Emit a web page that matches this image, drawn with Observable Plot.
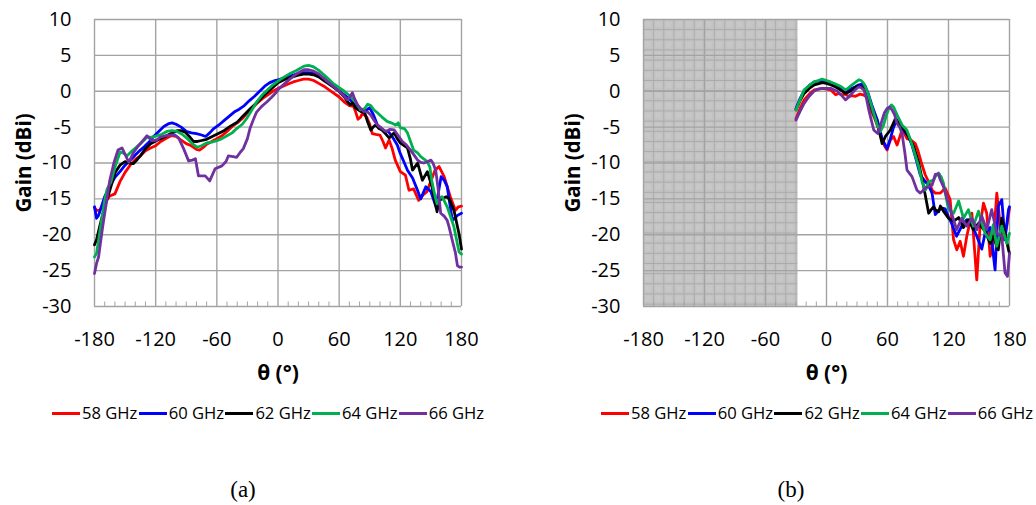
<!DOCTYPE html>
<html>
<head>
<meta charset="utf-8">
<script src="https://cdn.jsdelivr.net/npm/d3@7"></script>
<script src="https://cdn.jsdelivr.net/npm/@observablehq/plot@0.6"></script>
<style>
  html, body { margin: 0; padding: 0; background: #fff; }
  body { width: 1036px; height: 505px; overflow: hidden; position: relative; font-family: "Open Sans", sans-serif; }
  .panel { position: absolute; top: 0; }
  .legend { position: absolute; top: 403px; height: 20px; display: flex; align-items: center; font-size: 16.6px; line-height: 20px; white-space: nowrap; color: #000; }
  .item { display: flex; align-items: center; width: 86.7px; flex: none; }
  .sw { width: 28px; height: 3px; margin-right: 2px; flex: none; }
  .cap { position: absolute; top: 476px; font-family: "Liberation Serif", serif; font-size: 23px; line-height: 28px; transform: translateX(-50%); color: #000; }
</style>
</head>
<body>
<div id="pa" class="panel" style="left:0px"></div>
<div id="pb" class="panel" style="left:549px"></div>
<div id="la" class="legend" style="left:52px"></div>
<div id="lb" class="legend" style="left:601px"></div>
<div class="cap" style="left:243px">(a)</div>
<div class="cap" style="left:791px">(b)</div>
<script>
// ---------- data ----------
const freqNames = ["58 GHz", "60 GHz", "62 GHz", "64 GHz", "66 GHz"];
const freqColors = ["#ff0000", "#0000ff", "#000000", "#00b050", "#7030a0"];
const xTicks = [-180, -120, -60, 0, 60, 120, 180];
const yTicks = [-30, -25, -20, -15, -10, -5, 0, 5, 10];
const minorTicks = [-170,-160,-150,-140,-130,-110,-100,-90,-80,-70,-50,-40,-30,-20,-10,10,20,30,40,50,70,80,90,100,110,130,140,150,160,170];
const blockedRegionB = [[-180, -28]]; // shaded (unmeasured) region in panel (b)

// Panel (a): [theta (deg), gain (dBi)]
const a58 = [[-180,-16.2],[-178,-16.6],[-175,-16.6],[-170,-15.6],[-165,-14.6],[-160,-14.3],[-155,-12.6],[-150,-11.3],[-145,-10.3],[-140,-9.5],[-135,-9],[-130,-8.3],[-125,-7.9],[-120,-7.6],[-115,-7],[-110,-6.6],[-105,-6.2],[-100,-6.3],[-95,-6.8],[-90,-7.3],[-85,-7.6],[-80,-8.1],[-77,-8.2],[-73,-7.8],[-70,-7.4],[-65,-7],[-60,-6.6],[-55,-6.2],[-50,-5.6],[-45,-4.9],[-40,-4.4],[-35,-3.8],[-30,-3],[-25,-2.3],[-20,-1.6],[-15,-1],[-10,-0.5],[-5,0],[0,0.4],[5,0.7],[10,1.0],[15,1.3],[20,1.5],[25,1.7],[30,1.7],[35,1.5],[40,1.1],[45,0.7],[50,0.2],[55,-0.3],[60,-0.8],[65,-1.5],[70,-2],[74,-2.1],[76,-2.8],[78.5,-3.9],[81,-3.6],[83,-3],[87,-3.6],[90,-4.6],[92.5,-5.9],[96,-6],[100,-6.1],[103,-7],[105.5,-7.9],[109,-6.8],[112,-8],[115,-9.6],[120,-11.2],[125,-11.7],[128.5,-13.8],[133,-13.6],[138,-15.2],[142,-14.5],[146,-14],[150,-12.5],[154,-11],[158,-10.5],[163,-11.9],[169,-14.7],[174,-16.6],[177,-16.1],[180,-16]];
const a60 = [[-180,-16.1],[-178,-17.7],[-176,-17.3],[-173,-16],[-170,-14.7],[-165,-13.3],[-160,-12],[-155,-11.2],[-150,-10.3],[-145,-9.6],[-140,-8.9],[-135,-8.2],[-131,-7.7],[-126,-7],[-122,-6.3],[-117,-5.6],[-112,-4.9],[-107,-4.5],[-104,-4.4],[-100,-4.6],[-95,-5],[-90,-5.6],[-85,-5.8],[-80,-5.9],[-75,-6.1],[-71,-6.3],[-67,-5.8],[-63,-5.2],[-58,-4.7],[-53,-4.1],[-48,-3.5],[-43,-2.9],[-38,-2.5],[-33,-2],[-28,-1.3],[-23,-0.7],[-18,0],[-13,0.7],[-8,1.2],[-3,1.5],[0,1.6],[5,1.8],[12,2.1],[18,2.4],[25,2.6],[30,2.6],[35,2.5],[40,2.2],[45,1.7],[48,1.4],[55,0.6],[60,0],[65,-0.5],[71,-1.2],[76,-2],[81,-2.6],[86,-2.7],[90,-2.3],[94,-3.4],[97.5,-4.7],[101,-5.1],[104,-5.6],[108,-5.6],[112,-6.3],[117,-7.5],[120,-8.7],[124,-10],[127,-11],[132,-12.1],[136,-13.5],[140,-15],[145,-13.3],[150,-14],[155,-16.1],[160,-11.9],[163,-12.4],[166,-13.3],[171,-18],[176,-17.3],[180,-17]];
const a62 = [[-180,-21.4],[-178,-20.7],[-175,-18.9],[-170,-16.1],[-165,-13.8],[-160,-11.4],[-155,-10.3],[-150,-9.8],[-146,-10],[-142,-10.1],[-138,-9.5],[-135,-9],[-130,-8],[-125,-7.3],[-118,-6.8],[-112,-6.4],[-105,-5.9],[-99,-5.5],[-95,-5.5],[-91,-5.7],[-87,-6.3],[-83,-7],[-79,-7],[-76,-6.9],[-70,-6.7],[-66,-6.4],[-60,-6],[-53,-5.5],[-47,-4.9],[-40,-4.3],[-34,-3.4],[-27,-2.4],[-20,-1.5],[-14,-0.6],[-7,0.3],[0,1.2],[6,1.6],[12,1.9],[19,2.2],[25,2.4],[30,2.4],[35,2.3],[40,2],[45,1.5],[48,1.2],[54,0.6],[60,0],[65,-0.8],[68,-1.4],[71,-1.9],[73,-1.6],[76,-2.3],[81,-2.8],[85,-3],[88,-4.3],[91,-5.4],[94,-4.9],[96,-4.7],[99,-5.2],[102,-5.4],[106,-6],[109,-6.5],[114,-5.8],[117,-6.6],[120,-7.2],[124,-7.6],[127,-7.9],[130,-9.5],[132,-11],[137,-10],[141.6,-12.4],[146.5,-11.2],[151,-13.3],[156,-16.8],[158,-15.2],[161,-15],[165,-14.7],[168,-15],[172.6,-16.6],[177.6,-19.9],[180,-22]];
const a64 = [[-180,-23.1],[-178,-22.6],[-175,-19.8],[-170,-15.2],[-167.6,-13.6],[-164,-12.7],[-159.5,-10.4],[-155,-8.5],[-152,-8.6],[-148,-9],[-143,-8.3],[-139,-7.8],[-135,-7.3],[-128.5,-6.4],[-123,-6.4],[-118.7,-6.2],[-114,-6],[-109,-5.6],[-104,-5.5],[-99,-5.6],[-94,-6],[-89,-6.6],[-84,-7.3],[-79.6,-7.8],[-75,-7.6],[-70,-7.2],[-65,-7.1],[-60,-6.9],[-55,-6.6],[-50,-6.2],[-45,-5.8],[-40.5,-5.2],[-35,-4.6],[-30.7,-3.8],[-26,-2.7],[-21,-1.5],[-16,-0.6],[-11,0.1],[-5,0.9],[0,1.4],[5,1.9],[12.4,2.5],[18,2.9],[25.5,3.5],[30,3.6],[35,3.4],[40,2.9],[45,2.3],[48,1.9],[54,1.1],[60,0.5],[65,0],[71,-0.7],[76,-1.5],[81,-2.6],[85,-2.4],[88,-1.8],[91,-2],[94,-2.6],[97.5,-3],[102,-3.6],[107,-4.2],[111,-4.4],[115.4,-4.7],[118,-4.4],[120,-5.1],[124,-5.2],[127,-5.8],[130,-7],[133,-8.2],[137,-8.6],[140,-9.1],[146.5,-9.8],[149,-10.6],[151,-12.6],[154,-14.6],[156,-15.7],[158,-15],[161,-14.7],[166,-16.1],[172.6,-18.9],[177.6,-22.4],[180,-22.7]];
const a66 = [[-180,-25.4],[-178,-24],[-176,-23.1],[-174,-21],[-172,-18.9],[-168,-15.2],[-165,-12.4],[-161,-10],[-157,-8.2],[-153,-7.9],[-150,-8.8],[-146.4,-9.9],[-141.5,-8.5],[-138,-7.8],[-135,-7.3],[-128.5,-6.2],[-123.6,-6.9],[-119,-6.8],[-115.5,-6.4],[-110,-6.2],[-105.7,-6.1],[-101,-6.1],[-97.5,-6.5],[-92.6,-8],[-87.7,-9.7],[-84,-9.6],[-81,-9.4],[-78,-11.8],[-75,-11.8],[-71.4,-11.8],[-67,-12.5],[-61.7,-10.8],[-55,-10.4],[-51,-9.8],[-48.6,-9],[-44,-9.1],[-40.5,-9.2],[-37,-8.5],[-34,-8],[-30,-6.6],[-27.5,-5.2],[-24,-3.9],[-21,-2.9],[-16,-2.1],[-11,-1.5],[-6,-0.8],[-1.4,-0.1],[0,0.2],[6,1],[12.4,1.8],[18,2.4],[25.5,3],[30,3],[35,2.8],[40,2.4],[45,1.8],[48,1.4],[54,0.7],[60,0],[65,-0.7],[68,-1.2],[70,-0.9],[73,-0.2],[75,-1],[78,-1.9],[81,-2.4],[84,-2.8],[88,-2.9],[91,-3.3],[94,-4],[97.5,-4.7],[101,-5.1],[105.6,-5.6],[110,-5.3],[114,-5.4],[118,-6.2],[122,-7],[126,-7.5],[130,-8.2],[133,-8.8],[137,-9.6],[140,-9.9],[143,-10],[147,-9.8],[150,-9.6],[152,-10],[154.7,-11],[157,-13.5],[159.6,-17],[163,-17.4],[166,-18],[168,-19],[171,-20.8],[174,-22.5],[176,-24.3],[178,-24.5],[180,-24.5]];

// Panel (b): [theta (deg), gain (dBi)]
const b58 = [[-30,-3.8],[-26,-2.4],[-22,-1.2],[-17,-0.4],[-12,0.2],[-8,0.3],[-4,0.4],[0,0.3],[4,0.2],[9,-0.5],[12,-0.3],[15,-0.5],[18,-0.4],[22,-0.7],[25,-0.6],[28.5,-0.7],[33,-0.4],[36,-0.5],[38.5,-0.7],[41,-1.3],[43,-2.4],[48,-4],[51,-5.2],[55,-6.8],[57,-7.6],[59.6,-8.2],[62.8,-6.8],[66,-6.3],[69.4,-7.5],[72,-6.4],[74.3,-5.4],[77,-6],[79.2,-6.6],[83,-6.8],[87.4,-7.3],[90,-8.3],[93,-9.8],[97,-11.6],[101,-12.8],[104,-13.8],[107,-14.2],[112,-14.2],[116.7,-13.5],[121.6,-15.1],[125,-20.7],[128.2,-22.1],[131.5,-20.9],[134.7,-23],[138,-20.2],[143,-17],[147.8,-26.3],[151,-18.8],[154.4,-15.6],[157.6,-17],[161,-23],[164,-21.2],[167.5,-14.2],[170.7,-18.4],[174,-20.7],[177.3,-18.8],[180,-16.3]];
const b60 = [[-30,-2.4],[-26,-1],[-22,0],[-17,0.8],[-12,1.3],[-6,1.5],[0,1.4],[4,1.2],[9,0.9],[13.7,0.6],[18.7,0],[22,0.2],[25,0.4],[28,0.6],[31.8,0.9],[35,1],[38,0.7],[41,-0.3],[45,-2.1],[50,-4],[54.7,-6.6],[59.6,-8],[62.8,-6.6],[66,-5],[69.4,-4],[74.3,-5.2],[80.8,-6.3],[84,-7.5],[87.4,-9.1],[92.3,-11.7],[97.2,-12.6],[100,-13],[103.8,-14.2],[107,-17.2],[111,-16.5],[114,-16.3],[116.7,-16.4],[120,-17.5],[123,-18.4],[128,-20.2],[133,-18.8],[138,-17.9],[143,-18.7],[147.8,-20.2],[152.7,-22],[156,-19.8],[161,-19],[165.8,-24.9],[169,-16],[172.4,-15.1],[175.6,-20.7],[179,-16.5],[180,-16.1]];
const b62 = [[-30,-2.6],[-26,-1.3],[-22,-0.3],[-17,0.4],[-12,0.9],[-4,1.2],[0,1.1],[4,0.9],[9,0.6],[13.7,0.2],[18.7,-0.3],[22,-0.1],[25.2,0.2],[29,0.6],[31.8,0.7],[35,0.6],[38,0.2],[41,-0.9],[45,-2.6],[50,-4.5],[54.7,-7.3],[58,-6.3],[62.8,-5.4],[67.8,-3.8],[72.7,-4.7],[79.2,-5.9],[85.8,-7.7],[90.7,-10],[95.6,-13.3],[100.5,-17],[103,-16.5],[105.4,-16.1],[107,-16.5],[110.3,-16.8],[112,-16],[115,-16.7],[120,-17.7],[125,-18.1],[130,-17.6],[134.7,-19],[139.6,-17.9],[144.5,-19.3],[149.5,-18.4],[156,-19.5],[161,-21.2],[164,-20.2],[169,-22.1],[172.4,-17.7],[175.6,-19.8],[179,-22.1],[180,-22.6]];
const b64 = [[-30,-2.6],[-26,-1.2],[-22,0.2],[-17,0.8],[-12.4,1.3],[-8,1.5],[-4.3,1.7],[0,1.5],[4,1.3],[9,1],[13.7,0.7],[18.7,0.2],[22,0.5],[25.2,0.9],[29,1.3],[31.8,1.6],[34,1.5],[36.7,1.1],[39,0.4],[41.6,-0.7],[46.5,-3.1],[50.4,-4.9],[53,-5.6],[56,-4.8],[59,-3.3],[61,-2.5],[63.8,-1.9],[66,-2.2],[69.4,-3.3],[74.3,-4.7],[79,-5.4],[82,-6.5],[85.8,-8.2],[90.7,-10.5],[94,-12.6],[97.2,-13.8],[100.5,-12.6],[105.4,-12.4],[107,-11.9],[110.3,-11.4],[113,-12],[115,-12.8],[118,-15],[120,-16.5],[125,-17],[130,-15.3],[134.7,-17.7],[139.6,-16.5],[144.5,-18.8],[149.5,-16.7],[153,-18.5],[156,-19.8],[161,-20.7],[164,-18.6],[167.5,-21.6],[172.4,-18.8],[177.3,-21.2],[180,-19.8]];
const b66 = [[-30,-4],[-26,-2.8],[-22,-1.7],[-17,-0.7],[-12.4,0],[-8,0.3],[-4.3,0.4],[0,0.4],[4,0.4],[10.5,0],[15,-0.6],[18.7,-1.2],[22,-0.8],[25,-0.3],[29,0.3],[31.8,0.6],[34,0.5],[36.7,0.2],[39,-0.8],[41.6,-2.6],[44,-4],[46.5,-5.4],[50.4,-5.9],[52,-5.4],[54.7,-4],[57,-3],[59.6,-2.4],[62,-2.2],[64.5,-2.6],[67,-3.3],[69.4,-4.5],[72,-5],[74.3,-5.9],[77,-8.5],[79.2,-11],[84.1,-11.9],[89,-13.8],[92.3,-14.2],[97.2,-13.5],[103.8,-13.1],[107,-11.6],[110,-11.5],[111.8,-12.3],[115,-13.3],[120,-15.6],[125,-17.9],[128,-19.3],[133,-17.7],[138,-18.8],[143,-17.7],[147.8,-19.3],[152.7,-17.4],[157.6,-19.3],[162.5,-16.5],[167.5,-19.8],[172.4,-20.2],[175.6,-25.3],[178,-25.8],[180,-22.6]];

// ---------- chart ----------
const gridColor = "#a3a3a3";
const M = {top: 19, bottom: 84, left: 94};
const H = 390;

function makeChart(seriesList, width, marginRight, shade) {
  const rows = [];
  seriesList.forEach((pts, i) => pts.forEach(([t, g]) => rows.push({theta: t, gain: g, freq: freqNames[i]})));
  const frameH = H - M.top - M.bottom;
  const marks = [];
  if (shade) marks.push(Plot.rect(shade, {x1: d => d[0], x2: d => d[1], fill: "url(#shadeP)"}));
  marks.push(
    Plot.ruleY(yTicks, {stroke: gridColor, strokeWidth: 1.4}),
    Plot.ruleX(xTicks, {stroke: gridColor, strokeWidth: 1.4}),
    Plot.tickX(minorTicks, {x: d => d, stroke: gridColor, strokeWidth: 1, insetTop: frameH - 4.5}),
    Plot.line(rows, {x: "theta", y: "gain", z: "freq", stroke: "freq", strokeWidth: 2.8, strokeLinejoin: "round", strokeLinecap: "round"}),
    Plot.axisY({ticks: yTicks, tickSize: 0, tickPadding: 23, tickFormat: d => String(d), label: null}),
    Plot.axisX({ticks: xTicks, tickSize: 0, tickPadding: 25, tickFormat: d => String(d), label: null}),
    Plot.text(["Gain (dBi)"], {text: d => d, frameAnchor: "left", dx: -70, rotate: -90, textAnchor: "middle", lineAnchor: "middle", fontWeight: "bold", fontSize: 20.5}),
    Plot.text(["θ (°)"], {text: d => d, frameAnchor: "bottom", dy: 67, textAnchor: "middle", lineAnchor: "middle", fontWeight: "bold", fontSize: 21})
  );
  const svg = Plot.plot({
    width, height: H,
    marginTop: M.top, marginBottom: M.bottom, marginLeft: M.left, marginRight,
    x: {domain: [-180, 180]},
    y: {domain: [-30, 10]},
    color: {domain: freqNames, range: freqColors},
    style: {fontFamily: "'Open Sans', sans-serif", fontSize: "20px", color: "#000", background: "transparent", overflow: "visible"},
    marks
  });
  if (shade) {
    const plotW = width - M.left - marginRight;
    const step = plotW / 36; // one 10° cell
    const defs = d3.select(svg).insert("defs", ":first-child");
    const p = defs.append("pattern").attr("id", "shadeP").attr("patternUnits", "userSpaceOnUse")
      .attr("x", M.left).attr("y", M.top).attr("width", step).attr("height", step);
    p.append("rect").attr("width", step).attr("height", step).attr("fill", "#c2c2c2");
    p.append("rect").attr("x", 2).attr("y", 2).attr("width", step - 4).attr("height", step - 4).attr("fill", "#c7c7c7");
    p.append("path").attr("d", `M0,0H${step}M0,0V${step}`).attr("stroke", "#a2a2a2").attr("stroke-width", 1.2);
  }
  return svg;
}

document.getElementById("pa").append(makeChart([a58, a60, a62, a64, a66], 518, 57, null));
document.getElementById("pb").append(makeChart([b58, b60, b62, b64, b66], 487, 27, blockedRegionB));

function legend(el) {
  freqNames.forEach((n, i) => {
    const it = document.createElement("div"); it.className = "item";
    const sw = document.createElement("div"); sw.className = "sw"; sw.style.background = freqColors[i];
    const tx = document.createElement("span"); tx.textContent = n;
    it.append(sw, tx); el.append(it);
  });
}
legend(document.getElementById("la"));
legend(document.getElementById("lb"));
</script>
</body>
</html>
